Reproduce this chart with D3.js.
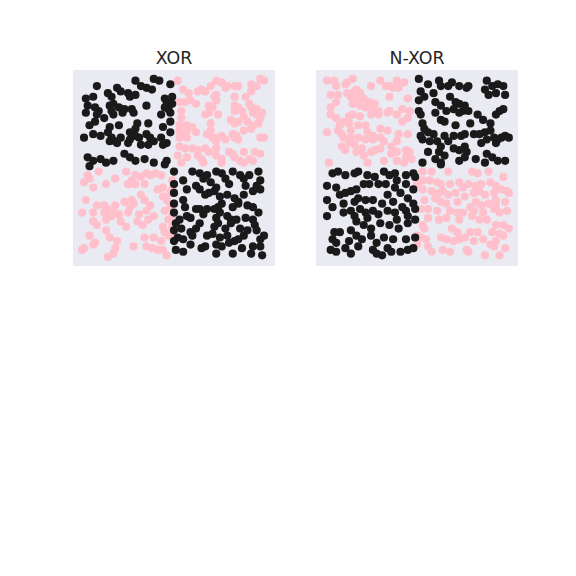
<!DOCTYPE html>
<html>
<head>
<meta charset="utf-8">
<script src="https://d3js.org/d3.v7.min.js"></script>
<style>
  body { margin: 0; background: #ffffff; }
</style>
</head>
<body>
<div id="vis"></div>
<script>
// panel titles
const TITLES = ["XOR", "N-XOR"];

// XOR panel: [x, y] points per class
const xorBlack = [
  [0.08,0.96],[0.19,0.95],[0.29,0.99],[0.32,0.96],[0.35,0.95],[0.39,1.0],[0.42,0.99],[0.48,0.97],
  [0.02,0.89],[0.06,0.9],[0.14,0.92],[0.16,0.9],[0.21,0.93],[0.25,0.92],[0.26,0.9],[0.29,0.91],[0.38,0.94],[0.45,0.89],[0.46,0.87],[0.49,0.9],
  [0.03,0.85],[0.07,0.84],[0.09,0.82],[0.15,0.85],[0.17,0.86],[0.2,0.84],[0.23,0.83],[0.27,0.83],[0.35,0.85],[0.45,0.84],[0.47,0.83],[0.49,0.86],
  [0.02,0.81],[0.08,0.8],[0.12,0.78],[0.17,0.8],[0.16,0.82],[0.22,0.81],[0.28,0.81],[0.43,0.8],[0.48,0.81],
  [0.04,0.74],[0.07,0.76],[0.15,0.73],[0.2,0.74],[0.3,0.75],[0.29,0.72],[0.36,0.75],[0.44,0.73],[0.48,0.76],
  [0.01,0.67],[0.06,0.69],[0.1,0.68],[0.14,0.7],[0.16,0.67],[0.18,0.65],[0.21,0.67],[0.26,0.7],[0.26,0.66],[0.29,0.68],[0.31,0.67],[0.35,0.69],[0.37,0.67],[0.39,0.65],[0.43,0.67],[0.46,0.64],[0.48,0.7],
  [0.15,0.65],[0.19,0.64],[0.25,0.64],[0.32,0.63],[0.36,0.63],[0.44,0.63],
  [0.03,0.56],[0.06,0.54],[0.1,0.55],[0.13,0.53],[0.17,0.54],[0.23,0.58],[0.26,0.56],[0.29,0.54],[0.34,0.55],[0.39,0.53],[0.46,0.54],
  [0.04,0.51],[0.45,0.52],
  [0.5,0.48],[0.55,0.43],[0.6,0.48],[0.64,0.47],[0.66,0.44],[0.68,0.46],[0.7,0.42],[0.73,0.48],[0.76,0.47],[0.78,0.44],[0.82,0.48],[0.86,0.46],[0.88,0.44],[0.91,0.46],[0.96,0.48],[0.97,0.43],[0.95,0.4],
  [0.57,0.38],[0.62,0.4],[0.64,0.38],[0.67,0.35],[0.69,0.36],[0.72,0.37],[0.73,0.39],[0.75,0.34],[0.8,0.41],[0.79,0.35],[0.83,0.33],[0.85,0.31],[0.88,0.35],[0.89,0.4],[0.93,0.37],[0.97,0.38],
  [0.5,0.3],[0.55,0.32],[0.56,0.28],[0.62,0.27],[0.64,0.27],[0.68,0.27],[0.72,0.27],[0.74,0.28],[0.76,0.3],[0.82,0.28],[0.85,0.3],[0.9,0.29],[0.93,0.28],[0.96,0.25],
  [0.5,0.25],[0.53,0.21],[0.57,0.23],[0.59,0.22],[0.66,0.24],[0.73,0.22],[0.75,0.25],[0.79,0.23],[0.81,0.21],[0.84,0.21],[0.89,0.22],[0.93,0.21],[0.94,0.18],
  [0.51,0.19],[0.54,0.16],[0.59,0.14],[0.62,0.16],[0.64,0.19],[0.72,0.17],[0.74,0.19],[0.78,0.16],[0.81,0.19],[0.86,0.16],[0.9,0.15],[0.95,0.15],
  [0.52,0.11],[0.55,0.1],[0.6,0.12],[0.68,0.12],[0.71,0.13],[0.75,0.11],[0.79,0.12],[0.83,0.09],[0.85,0.1],[0.88,0.12],[0.97,0.1],[0.99,0.12],
  [0.51,0.04],[0.55,0.03],[0.59,0.07],[0.65,0.05],[0.67,0.06],[0.73,0.07],[0.76,0.06],[0.8,0.08],[0.87,0.05],[0.93,0.06],[0.97,0.06],[0.98,0.01],
  [0.73,0.02],[0.82,0.02],[0.92,0.02],
  [0.5,0.41],[0.5,0.36],[0.5,0.15],[0.5,0.09]
];
const xorPink = [
  [0.52,0.99],[0.73,0.99],[0.76,0.98],[0.79,0.96],[0.78,0.95],[0.83,0.96],[0.85,0.96],[0.92,0.97],[0.95,0.96],[0.97,1.0],[0.99,0.99],
  [0.55,0.94],[0.58,0.92],[0.63,0.93],[0.65,0.94],[0.67,0.93],[0.7,0.96],[0.72,0.9],[0.73,0.91],[0.73,0.88],[0.83,0.9],[0.89,0.9],[0.92,0.93],
  [0.53,0.87],[0.56,0.87],[0.59,0.88],[0.62,0.86],[0.69,0.85],[0.71,0.84],[0.83,0.85],[0.85,0.84],[0.91,0.86],[0.92,0.84],[0.95,0.83],
  [0.54,0.82],[0.67,0.8],[0.69,0.81],[0.74,0.8],[0.83,0.82],[0.87,0.82],[0.88,0.79],[0.93,0.81],[0.95,0.8],[0.98,0.81],[0.97,0.78],
  [0.54,0.78],[0.53,0.74],[0.57,0.74],[0.6,0.73],[0.7,0.75],[0.81,0.77],[0.83,0.75],[0.85,0.76],[0.9,0.76],[0.93,0.74],[0.96,0.75],
  [0.53,0.71],[0.54,0.69],[0.57,0.71],[0.62,0.7],[0.68,0.69],[0.7,0.71],[0.73,0.67],[0.76,0.68],[0.82,0.69],[0.84,0.68],[0.88,0.71],[0.92,0.72],
  [0.53,0.67],[0.57,0.67],[0.71,0.67],[0.73,0.65],[0.78,0.66],[0.83,0.67],[0.85,0.66],[0.97,0.67],[0.99,0.67],
  [0.53,0.62],[0.56,0.61],[0.6,0.61],[0.63,0.6],[0.67,0.61],[0.69,0.59],[0.73,0.61],[0.8,0.59],[0.82,0.58],[0.88,0.59],[0.94,0.59],[0.97,0.58],
  [0.52,0.57],[0.57,0.56],[0.63,0.57],[0.65,0.55],[0.73,0.57],[0.76,0.55],[0.83,0.56],[0.86,0.54],[0.91,0.55],[0.93,0.54],
  [0.54,0.53],[0.66,0.53],[0.76,0.53],[0.88,0.53],
  [0.03,0.46],[0.04,0.44],[0.01,0.42],[0.09,0.48],[0.13,0.41],[0.18,0.44],[0.24,0.48],[0.25,0.41],[0.27,0.43],[0.29,0.46],[0.32,0.45],[0.35,0.47],[0.37,0.46],[0.4,0.47],[0.43,0.46],[0.34,0.41],[0.29,0.41],[0.26,0.41],
  [0.06,0.39],[0.02,0.32],[0.08,0.29],[0.12,0.29],[0.18,0.29],[0.23,0.31],[0.27,0.32],[0.28,0.3],[0.32,0.35],[0.34,0.32],[0.37,0.29],[0.41,0.38],[0.44,0.39],[0.44,0.34],[0.46,0.32],[0.48,0.36],
  [0.0,0.25],[0.06,0.25],[0.12,0.25],[0.14,0.27],[0.16,0.23],[0.17,0.26],[0.2,0.24],[0.25,0.25],[0.26,0.28],[0.31,0.24],[0.35,0.26],[0.39,0.23],[0.45,0.26],[0.48,0.28],
  [0.06,0.2],[0.08,0.18],[0.13,0.21],[0.21,0.2],[0.24,0.17],[0.3,0.2],[0.33,0.18],[0.36,0.21],[0.44,0.17],[0.47,0.21],
  [0.04,0.12],[0.13,0.15],[0.45,0.14],[0.47,0.12],
  [0.06,0.07],[0.07,0.08],[0.15,0.11],[0.19,0.09],[0.28,0.06],[0.34,0.11],[0.35,0.06],[0.39,0.11],[0.38,0.05],[0.43,0.09],[0.44,0.04],
  [0.0,0.04],[0.01,0.05],[0.14,0.0],[0.17,0.02],[0.18,0.05],[0.41,0.04],[0.46,0.01],
  [0.49,0.43],[0.49,0.38],[0.49,0.23],[0.49,0.17],[0.49,0.12]
];

// N-XOR panel
const nxorBlack = [
  [0.51,1.0],[0.56,0.97],[0.62,0.99],[0.63,0.96],[0.67,0.96],[0.69,0.98],[0.73,0.96],[0.77,0.95],[0.78,0.96],[0.88,0.99],[0.91,0.96],[0.94,0.97],[0.97,0.96],
  [0.87,0.94],[0.89,0.91],[0.93,0.92],[0.98,0.91],
  [0.52,0.93],[0.54,0.9],[0.59,0.92],[0.51,0.88],[0.6,0.87],[0.63,0.85],[0.68,0.9],[0.71,0.87],[0.73,0.86],[0.76,0.85],[0.75,0.82],[0.78,0.82],[0.7,0.83],[0.73,0.81],[0.66,0.82],
  [0.51,0.82],[0.52,0.8],[0.6,0.81],[0.63,0.77],[0.65,0.76],[0.71,0.74],[0.79,0.75],[0.83,0.8],[0.86,0.77],[0.93,0.8],[0.95,0.82],[0.97,0.83],[0.9,0.75],
  [0.53,0.75],[0.54,0.72],[0.56,0.7],[0.59,0.69],[0.52,0.68],[0.53,0.66],[0.65,0.68],[0.7,0.68],[0.74,0.68],[0.76,0.69],[0.81,0.69],[0.84,0.69],[0.87,0.7],[0.9,0.71],[0.92,0.67],[0.96,0.67],[0.98,0.68],[1.0,0.67],
  [0.57,0.65],[0.61,0.65],[0.63,0.62],[0.67,0.65],[0.7,0.61],[0.73,0.6],[0.76,0.62],[0.77,0.59],[0.85,0.64],[0.88,0.66],[0.93,0.64],[0.94,0.66],
  [0.56,0.59],[0.62,0.59],[0.65,0.57],[0.6,0.55],[0.63,0.53],[0.73,0.54],[0.76,0.56],[0.82,0.55],[0.88,0.58],[0.91,0.56],[0.87,0.53],[0.94,0.54],[0.98,0.54],
  [0.53,0.53],[0.63,0.52],
  [0.04,0.47],[0.07,0.48],[0.11,0.46],[0.16,0.47],[0.18,0.48],[0.23,0.46],[0.27,0.45],[0.32,0.48],[0.35,0.46],[0.38,0.47],[0.44,0.46],[0.48,0.47],[0.39,0.43],[0.44,0.41],
  [0.01,0.4],[0.06,0.39],[0.08,0.35],[0.11,0.36],[0.14,0.37],[0.17,0.38],[0.21,0.41],[0.24,0.41],[0.29,0.41],[0.33,0.41],[0.34,0.35],[0.38,0.39],[0.41,0.36],[0.45,0.33],[0.48,0.38],
  [0.01,0.32],[0.04,0.28],[0.1,0.3],[0.16,0.31],[0.18,0.33],[0.22,0.32],[0.26,0.32],[0.31,0.3],[0.37,0.31],[0.42,0.28],[0.48,0.3],
  [0.01,0.23],[0.1,0.25],[0.14,0.26],[0.16,0.23],[0.19,0.27],[0.22,0.25],[0.23,0.22],[0.26,0.26],[0.29,0.24],[0.34,0.26],[0.38,0.25],[0.44,0.26],[0.45,0.23],
  [0.05,0.14],[0.08,0.14],[0.14,0.15],[0.17,0.2],[0.21,0.18],[0.25,0.16],[0.3,0.19],[0.35,0.18],[0.39,0.21],[0.4,0.16],[0.45,0.19],
  [0.04,0.1],[0.06,0.08],[0.13,0.09],[0.17,0.12],[0.2,0.1],[0.25,0.12],[0.28,0.08],[0.32,0.11],[0.37,0.1],[0.44,0.1],
  [0.03,0.04],[0.06,0.03],[0.11,0.05],[0.14,0.02],[0.18,0.06],[0.26,0.04],[0.28,0.02],[0.31,0.01],[0.34,0.05],[0.36,0.03],[0.41,0.03],[0.45,0.04],[0.48,0.05],
  [0.49,0.45],[0.49,0.27],[0.49,0.21],[0.49,0.11]
];
const nxorPink = [
  [0.01,0.99],[0.05,0.99],[0.06,0.96],[0.11,0.97],[0.12,0.98],[0.15,1.0],[0.3,0.99],[0.33,0.96],[0.35,0.96],[0.39,0.99],[0.4,0.95],[0.43,0.98],[0.25,0.96],[0.37,0.95],
  [0.03,0.91],[0.07,0.91],[0.12,0.92],[0.14,0.9],[0.16,0.93],[0.17,0.94],[0.19,0.92],[0.17,0.88],[0.21,0.89],[0.24,0.87],[0.27,0.86],[0.35,0.9],
  [0.06,0.87],[0.15,0.86],[0.19,0.85],[0.22,0.84],[0.26,0.83],[0.29,0.82],[0.03,0.84],[0.42,0.83],[0.46,0.82],[0.45,0.89],
  [0.03,0.8],[0.06,0.78],[0.13,0.79],[0.15,0.8],[0.19,0.79],[0.25,0.8],[0.29,0.8],[0.34,0.81],[0.35,0.82],[0.39,0.8],[0.42,0.76],[0.45,0.78],
  [0.08,0.74],[0.1,0.76],[0.13,0.75],[0.07,0.71],[0.09,0.69],[0.14,0.71],[0.18,0.74],[0.22,0.74],[0.23,0.7],[0.26,0.68],[0.3,0.72],[0.34,0.71],[0.4,0.69],[0.45,0.69],
  [0.01,0.7],[0.1,0.67],[0.14,0.67],[0.13,0.64],[0.18,0.67],[0.22,0.66],[0.26,0.66],[0.3,0.67],[0.32,0.65],[0.39,0.65],
  [0.09,0.62],[0.11,0.6],[0.16,0.63],[0.17,0.59],[0.2,0.61],[0.21,0.57],[0.25,0.59],[0.27,0.6],[0.3,0.61],[0.36,0.62],[0.36,0.58],[0.39,0.59],[0.44,0.6],[0.46,0.59],[0.44,0.56],[0.47,0.55],
  [0.02,0.53],[0.23,0.53],[0.32,0.54],[0.39,0.54],[0.43,0.53],
  [0.53,0.48],[0.58,0.48],[0.67,0.48],[0.8,0.48],[0.83,0.47],[0.89,0.48],[0.97,0.45],
  [0.53,0.43],[0.57,0.43],[0.61,0.42],[0.63,0.41],[0.68,0.41],[0.73,0.42],[0.78,0.41],[0.82,0.4],[0.85,0.41],[0.9,0.42],[0.93,0.4],[0.96,0.38],[0.99,0.37],[1.0,0.36],
  [0.53,0.38],[0.58,0.37],[0.62,0.36],[0.64,0.37],[0.67,0.35],[0.71,0.36],[0.75,0.39],[0.76,0.34],[0.81,0.36],[0.84,0.37],[0.87,0.35],[0.92,0.36],[0.93,0.32],
  [0.54,0.32],[0.6,0.33],[0.63,0.31],[0.66,0.3],[0.72,0.31],[0.82,0.31],[0.85,0.29],[0.89,0.3],[0.93,0.29],[0.98,0.31],[0.99,0.26],
  [0.52,0.27],[0.56,0.27],[0.61,0.26],[0.68,0.26],[0.72,0.25],[0.75,0.25],[0.79,0.28],[0.81,0.26],[0.86,0.25],[0.92,0.27],[0.95,0.25],
  [0.56,0.22],[0.62,0.21],[0.66,0.22],[0.73,0.21],[0.8,0.23],[0.84,0.21],[0.88,0.21],[0.93,0.18],[0.97,0.18],[1.0,0.16],
  [0.53,0.18],[0.54,0.16],[0.69,0.16],[0.72,0.14],[0.79,0.14],[0.83,0.14],[0.91,0.14],[0.95,0.13],[0.97,0.12],
  [0.52,0.11],[0.55,0.1],[0.63,0.11],[0.66,0.1],[0.7,0.09],[0.73,0.1],[0.76,0.11],[0.81,0.09],[0.86,0.1],[0.9,0.07],[0.93,0.09],[0.92,0.06],[0.98,0.05],
  [0.56,0.06],[0.58,0.03],[0.64,0.04],[0.68,0.03],[0.77,0.04],[0.78,0.03],[0.87,0.01],[0.95,0.01],
  [0.5,0.41],[0.5,0.12],[0.5,0.07]
];

const FRAME_WIDTH = 576;
const FRAME_HEIGHT = 576;
const PANEL_TOP = 70;
const PANEL_WIDTH = 202;
const PANEL_HEIGHT = 196;
const PANEL_LEFTS = [73, 316];

const FRAME = d3.select("#vis")
  .append("svg")
    .attr("width", FRAME_WIDTH)
    .attr("height", FRAME_HEIGHT)
    .style("display", "block");

// same data range on both panels, 5% margin like matplotlib
const X_SCALE = d3.scaleLinear().domain([-0.05, 1.05]).range([0, PANEL_WIDTH]);
const Y_SCALE = d3.scaleLinear().domain([-0.05, 1.05]).range([PANEL_HEIGHT, 0]);

function build_panel(i, pinkPts, blackPts) {
  const g = FRAME.append("g")
    .attr("transform", "translate(" + PANEL_LEFTS[i] + "," + PANEL_TOP + ")");

  g.append("rect")
    .attr("width", PANEL_WIDTH)
    .attr("height", PANEL_HEIGHT)
    .attr("fill", "#eaeaf2");

  g.append("text")
    .attr("x", PANEL_WIDTH / 2)
    .attr("y", -6)
    .attr("text-anchor", "middle")
    .attr("font-family", "DejaVu Sans, sans-serif")
    .attr("font-size", "17.4px")
    .attr("fill", "#262626")
    .text(TITLES[i]);

  g.append("g").selectAll("circle")
    .data(pinkPts)
    .enter()
    .append("circle")
      .attr("cx", d => X_SCALE(d[0]))
      .attr("cy", d => Y_SCALE(d[1]))
      .attr("r", 4.1)
      .attr("fill", "#ffc0cb");

  g.append("g").selectAll("circle")
    .data(blackPts)
    .enter()
    .append("circle")
      .attr("cx", d => X_SCALE(d[0]))
      .attr("cy", d => Y_SCALE(d[1]))
      .attr("r", 4.1)
      .attr("fill", "#1a1a1a");
}

build_panel(0, xorPink, xorBlack);
build_panel(1, nxorPink, nxorBlack);
</script>
</body>
</html>
